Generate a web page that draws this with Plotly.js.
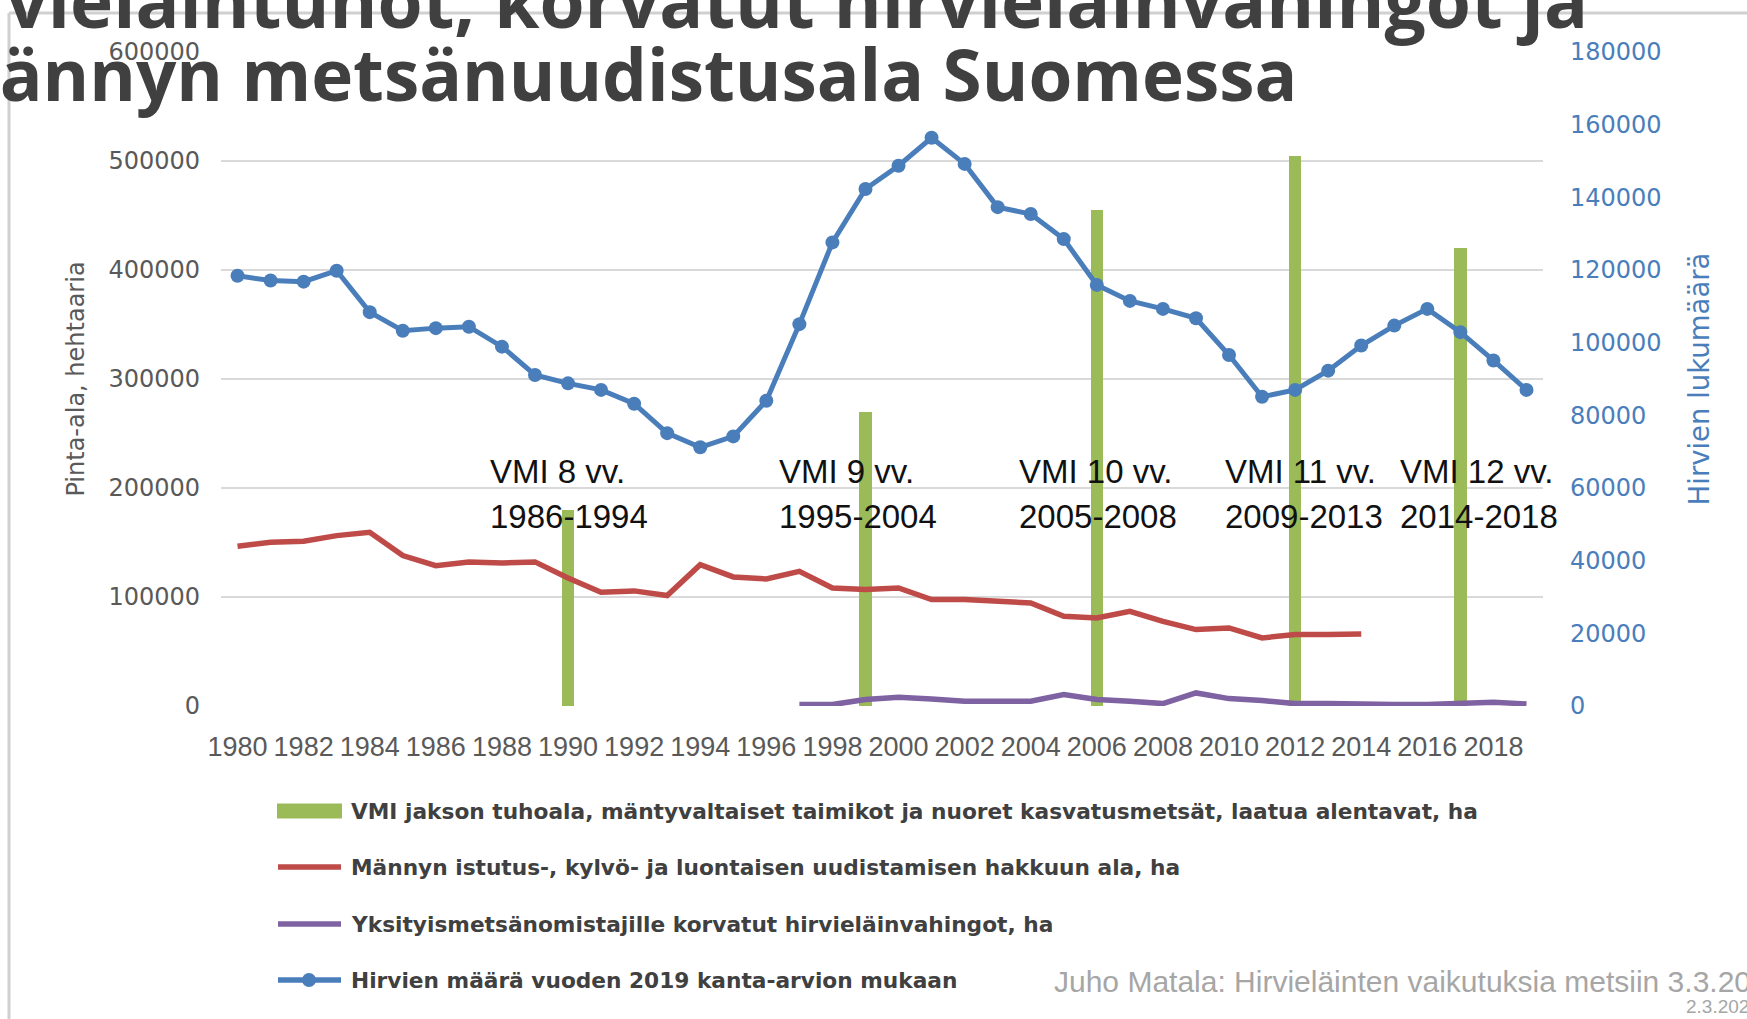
<!DOCTYPE html>
<html>
<head>
<meta charset="utf-8">
<script src="https://cdn.plot.ly/plotly-3.0.1.min.js"></script>
<style>
html,body{margin:0;padding:0;background:#ffffff;}
#chart{width:1747px;height:1019px;}
</style>
</head>
<body>
<div id="chart"></div>
<script>
// ---------------- DATA ----------------
const years = [1980,1981,1982,1983,1984,1985,1986,1987,1988,1989,1990,1991,1992,1993,1994,1995,1996,1997,1998,1999,2000,2001,2002,2003,2004,2005,2006,2007,2008,2009,2010,2011,2012,2013,2014,2015,2016,2017,2018,2019];
const mooseCount = [118400,117100,116800,119800,108400,103300,104000,104400,98900,91100,88800,87000,83200,75100,71200,74200,84000,105100,127600,142300,148700,156400,149200,137300,135400,128500,115900,111500,109300,106700,96600,85100,87000,92300,99200,104700,109300,102900,95100,87000];

const pineYears = [1980,1981,1982,1983,1984,1985,1986,1987,1988,1989,1990,1991,1992,1993,1994,1995,1996,1997,1998,1999,2000,2001,2002,2003,2004,2005,2006,2007,2008,2009,2010,2011,2012,2013,2014];
const pineRenewalArea = [146500,150200,151100,156300,159400,138000,128800,132200,131300,132200,117500,104300,105600,101300,129700,118400,116600,123600,108300,106800,108300,97600,97600,96100,94600,82300,80800,86900,77700,70100,71600,62500,65500,65500,66100];

const damageYears = [1997,1998,1999,2000,2001,2002,2003,2004,2005,2006,2007,2008,2009,2010,2011,2012,2013,2014,2015,2016,2017,2018,2019];
const compensatedDamage = [1300,1300,5900,8000,6500,4300,4300,4300,10500,5900,4300,2200,12000,6800,5000,2200,2200,1300,1300,1300,2200,3500,1900];

const vmiYears = [1990,1999,2006,2012,2017];
const vmiDamageArea = [180000,270000,455000,505000,420000];
const vmiLabels = ['VMI 8 vv.','VMI 9 vv.','VMI 10 vv.','VMI 11 vv.','VMI 12 vv.'];
const vmiPeriods = ['1986-1994','1995-2004','2005-2008','2009-2013','2014-2018'];

const seriesNames = [
  'VMI jakson tuhoala, mäntyvaltaiset taimikot ja nuoret kasvatusmetsät, laatua alentavat, ha',
  'Männyn istutus-, kylvö- ja luontaisen uudistamisen hakkuun ala, ha',
  'Yksityismetsänomistajille korvatut hirvieläinvahingot, ha',
  'Hirvien määrä vuoden 2019 kanta-arvion mukaan'
];
const titleLines = ['Hirvieläintuhot, korvatut hirvieläinvahingot ja','männyn metsänuudistusala Suomessa'];
const leftAxisTitle = 'Pinta-ala, hehtaaria';
const rightAxisTitle = 'Hirvien lukumäärä';
const sourceText = 'Juho Matala: Hirvieläinten vaikutuksia metsiin 3.3.2021';
const dateText = '2.3.2021';

// ---------------- STYLE / GEOMETRY ----------------
const W = 1747, H = 1019, L = 221, R = 1543, T = 52, B = 706;
const px = x => (x - L) / (R - L);
const py = y => (B - y) / (B - T);

const GREEN = '#9bbb59', RED = '#be4b48', PURPLE = '#7e62a1', BLUE = '#4a7ebb';
const colors = [GREEN, RED, PURPLE, BLUE];

const traces = [
  {type:'bar', x:vmiYears, y:vmiDamageArea, width:0.38, marker:{color:GREEN}, name:seriesNames[0], yaxis:'y', hoverinfo:'x+y'},
  {type:'scatter', mode:'lines', x:pineYears, y:pineRenewalArea, line:{color:RED, width:5.5}, name:seriesNames[1], yaxis:'y'},
  {type:'scatter', mode:'lines', x:damageYears, y:compensatedDamage, line:{color:PURPLE, width:5.5}, name:seriesNames[2], yaxis:'y'},
  {type:'scatter', mode:'lines+markers', x:years, y:mooseCount, line:{color:BLUE, width:5}, marker:{color:BLUE, size:14}, name:seriesNames[3], yaxis:'y2'}
];

const annotations = [];
const shapes = [];

// slide frame
shapes.push({type:'line', xref:'paper', yref:'paper', x0:px(9), x1:px(W), y0:py(13), y1:py(13), line:{color:'#d0d0d0', width:3}, layer:'below'});
shapes.push({type:'line', xref:'paper', yref:'paper', x0:px(9), x1:px(9), y0:py(13), y1:py(H), line:{color:'#d0d0d0', width:3}, layer:'below'});

// slide title (partly outside the visible page, as in the source slide)
annotations.push({xref:'paper', yref:'paper', x:px(1590), y:py(-1), xanchor:'right', yanchor:'middle', text:titleLines[0], showarrow:false,
  font:{family:'Open Sans, sans-serif', size:73, color:'#404040', weight:700}});
annotations.push({xref:'paper', yref:'paper', x:px(1299), y:py(73), xanchor:'right', yanchor:'middle', text:titleLines[1], showarrow:false,
  font:{family:'Open Sans, sans-serif', size:71, color:'#404040', weight:700}});

// VMI period labels
const vmiLabelX = [488, 777, 1017, 1223, 1398];
const vmiFont = {family:'Liberation Sans, Arial, sans-serif', size:33, color:'#111111'};
vmiLabels.forEach((t, i) => {
  annotations.push({xref:'paper', yref:'paper', x:px(vmiLabelX[i]), y:py(471), xanchor:'left', yanchor:'middle', text:t, showarrow:false, font:vmiFont});
  annotations.push({xref:'paper', yref:'paper', x:px(vmiLabelX[i]), y:py(516), xanchor:'left', yanchor:'middle', text:vmiPeriods[i], showarrow:false, font:vmiFont});
});

// legend (drawn manually to match the swatch geometry)
const legRows = [811, 867, 924, 980];
const legFont = {family:'DejaVu Sans, sans-serif', size:21.7, color:'#404040', weight:700};
seriesNames.forEach((name, i) => {
  const yc = legRows[i];
  if (i === 0) {
    shapes.push({type:'rect', xref:'paper', yref:'paper', x0:px(277), x1:px(342), y0:py(yc-7.5), y1:py(yc+7.5), fillcolor:colors[i], line:{width:0}});
  } else {
    shapes.push({type:'line', xref:'paper', yref:'paper', x0:px(278), x1:px(341), y0:py(yc), y1:py(yc), line:{color:colors[i], width:5.5}});
  }
  if (i === 3) {
    shapes.push({type:'circle', xref:'paper', yref:'paper', x0:px(302), x1:px(316), y0:py(yc-7), y1:py(yc+7), fillcolor:BLUE, line:{width:0}});
  }
  annotations.push({xref:'paper', yref:'paper', x:px(349), y:py(yc), xanchor:'left', yanchor:'middle', text:name, showarrow:false, font:legFont});
});

// source note
annotations.push({xref:'paper', yref:'paper', x:px(1052), y:py(981), xanchor:'left', yanchor:'middle', text:sourceText, showarrow:false, font:{family:'Liberation Sans, Arial, sans-serif', size:30, color:'#a6a6a6'}});
annotations.push({xref:'paper', yref:'paper', x:px(1684), y:py(1006), xanchor:'left', yanchor:'middle', text:dateText, showarrow:false, font:{family:'Liberation Sans Narrow, Liberation Sans, Arial, sans-serif', size:19, color:'#a6a6a6'}});

const layout = {
  width: W, height: H, autosize: false,
  margin: {l: L, r: W - R, t: T, b: H - B, pad: 0},
  paper_bgcolor: '#ffffff', plot_bgcolor: '#ffffff',
  showlegend: false,
  bargap: 0,
  xaxis: {
    range: [1979.5, 2019.5], tick0: 1980, dtick: 2, tickmode: 'linear',
    showgrid: false, zeroline: false, showline: false, ticks: '',
    tickfont: {family:'Liberation Sans, Arial, sans-serif', size:27, color:'#595959'},
    ticklabelstandoff: 22
  },
  yaxis: {
    range: [0, 600000], dtick: 100000, tick0: 0, tickmode: 'linear', tickformat: 'd',
    showgrid: true, gridcolor: '#d9d9d9', gridwidth: 2, zeroline: false, showline: false, ticks: '',
    tickfont: {family:'DejaVu Sans, sans-serif', size:24, color:'#595959'},
    ticklabelstandoff: 20,
    title: {text: leftAxisTitle, font: {family:'DejaVu Sans, sans-serif', size:24, color:'#595959'}, standoff: 16}
  },
  yaxis2: {
    overlaying: 'y', side: 'right',
    range: [0, 180000], dtick: 20000, tick0: 0, tickmode: 'linear', tickformat: 'd',
    showgrid: false, zeroline: false, showline: false, ticks: '',
    tickfont: {family:'DejaVu Sans, sans-serif', size:24, color:BLUE},
    ticklabelstandoff: 26,
    title: {text: rightAxisTitle, font: {family:'DejaVu Sans, sans-serif', size:27.5, color:BLUE}, standoff: 29}
  },
  shapes: shapes,
  annotations: annotations
};

Plotly.newPlot('chart', traces, layout, {displayModeBar: false, staticPlot: true});
</script>
</body>
</html>
